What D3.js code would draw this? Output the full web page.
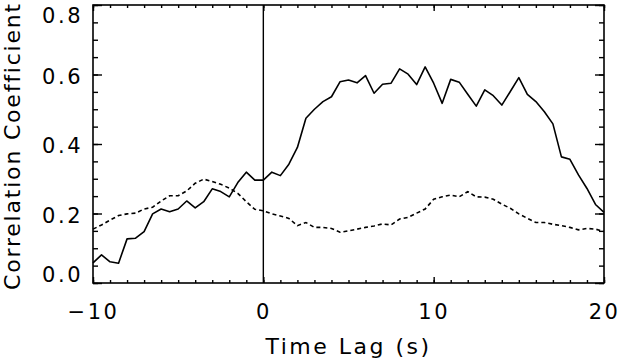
<!DOCTYPE html>
<html>
<head>
<meta charset="utf-8">
<script src="https://cdn.jsdelivr.net/npm/d3@7"></script>
<style>
  body { margin: 0; background: #fff; }
  text { font-family: 'DejaVu Sans', sans-serif; fill: #000; }
</style>
</head>
<body>
<script>
const width = 620, height = 363
const margin = {top: 5, right: 16, bottom: 80, left: 93}

// time lag in s, every 0.5 s from -10 to 20
const lags = d3.range(61).map(i => -10 + i * 0.5)

const solid = [
  0.058, 0.081, 0.061, 0.057, 0.127, 0.129, 0.148, 0.199, 0.213, 0.205,
  0.213, 0.236, 0.216, 0.234, 0.271, 0.263, 0.248, 0.289, 0.319, 0.296,
  0.296, 0.319, 0.309, 0.342, 0.390, 0.474, 0.500, 0.522, 0.536, 0.579,
  0.584, 0.576, 0.597, 0.546, 0.572, 0.575, 0.616, 0.601, 0.571, 0.622,
  0.575, 0.517, 0.586, 0.578, 0.543, 0.509, 0.556, 0.539, 0.512, 0.551,
  0.591, 0.543, 0.522, 0.493, 0.458, 0.363, 0.356, 0.311, 0.272, 0.226,
  0.203
]

const dashed = [
  0.155, 0.167, 0.181, 0.194, 0.199, 0.201, 0.213, 0.218, 0.236, 0.251,
  0.251, 0.265, 0.287, 0.299, 0.292, 0.284, 0.273, 0.258, 0.234, 0.212,
  0.208, 0.199, 0.193, 0.186, 0.165, 0.174, 0.160, 0.160, 0.157, 0.146,
  0.150, 0.155, 0.160, 0.164, 0.170, 0.167, 0.184, 0.189, 0.201, 0.213,
  0.241, 0.248, 0.253, 0.248, 0.263, 0.248, 0.247, 0.241, 0.227, 0.215,
  0.199, 0.186, 0.174, 0.174, 0.169, 0.165, 0.160, 0.153, 0.157, 0.155,
  0.148
]

const xMajor = [-10, 0, 10, 20]
const xMinor = d3.range(-10, 21, 1)
const yMajor = [0, 0.2, 0.4, 0.6, 0.8]
const yMinor = d3.range(0, 0.801, 0.05)

const x = d3.scaleLinear().domain([-10, 20]).range([margin.left, width - margin.right])
const y = d3.scaleLinear().domain([0, 0.8]).range([height - margin.bottom, margin.top])

const svg = d3.select('body').append('svg')
  .attr('width', width)
  .attr('height', height)

const fs = 21, ls = '2.5px'

let tick = (g, axis) => {
  g.call(axis)
  g.select('.domain').remove()
  g.selectAll('line').attr('stroke', '#000').attr('stroke-width', 1.4)
  g.selectAll('text')
    .style('font-size', fs + 'px')
    .style('letter-spacing', ls)
    .attr('fill', '#000')
}

const yBot = y(0), yTop = y(0.8), xLeft = x(-10), xRight = x(20)

// x minor and major ticks, bottom and top
svg.append('g').attr('transform', `translate(0,${yBot})`)
  .call(g => tick(g, d3.axisBottom(x).tickValues(xMinor).tickSize(-3).tickFormat('')))
svg.append('g').attr('transform', `translate(0,${yBot})`)
  .call(g => tick(g, d3.axisBottom(x).tickValues(xMajor).tickSize(-6).tickPadding(21).tickFormat(d3.format('d'))))
svg.append('g').attr('transform', `translate(0,${yTop})`)
  .call(g => tick(g, d3.axisTop(x).tickValues(xMinor).tickSize(-3).tickFormat('')))
svg.append('g').attr('transform', `translate(0,${yTop})`)
  .call(g => tick(g, d3.axisTop(x).tickValues(xMajor).tickSize(-6).tickFormat('')))

// y ticks, left and right
svg.append('g').attr('transform', `translate(${xLeft},0)`)
  .call(g => tick(g, d3.axisLeft(y).tickValues(yMinor).tickSize(-5).tickFormat('')))
const yl = svg.append('g').attr('transform', `translate(${xLeft},0)`)
  .call(g => tick(g, d3.axisLeft(y).tickValues(yMajor).tickSize(-9).tickPadding(10).tickFormat(d3.format('.1f'))))
svg.append('g').attr('transform', `translate(${xRight},0)`)
  .call(g => tick(g, d3.axisRight(y).tickValues(yMinor).tickSize(-5).tickFormat('')))
svg.append('g').attr('transform', `translate(${xRight},0)`)
  .call(g => tick(g, d3.axisRight(y).tickValues(yMajor).tickSize(-9).tickFormat('')))

// keep the end labels inside the frame
yl.selectAll('.tick text').attr('y', d => {
  let p = Math.min(Math.max(y(d) + 2, yTop + 11), yBot - 8)
  return p - y(d)
})

// frame
svg.append('rect')
  .attr('x', xLeft).attr('y', yTop)
  .attr('width', xRight - xLeft).attr('height', yBot - yTop)
  .attr('fill', 'none').attr('stroke', '#000').attr('stroke-width', 1.6)

// zero lag line
svg.append('line')
  .attr('x1', x(0)).attr('x2', x(0))
  .attr('y1', yBot).attr('y2', yTop)
  .attr('stroke', '#000').attr('stroke-width', 1.4)

const line = d3.line().x((d, i) => x(lags[i])).y(d => y(d))

svg.append('path').datum(solid)
  .attr('d', line)
  .attr('fill', 'none').attr('stroke', '#000').attr('stroke-width', 1.6)
  .attr('stroke-linejoin', 'round')

svg.append('path').datum(dashed)
  .attr('d', line)
  .attr('fill', 'none').attr('stroke', '#000').attr('stroke-width', 1.6)
  .attr('stroke-dasharray', '4,3')

// axis titles
svg.append('text')
  .attr('x', (xLeft + xRight) / 2)
  .attr('y', 354)
  .attr('text-anchor', 'middle')
  .style('font-size', '22px')
  .style('letter-spacing', ls)
  .text('Time Lag (s)')

svg.append('text')
  .attr('transform', `translate(20,${(yTop + yBot) / 2 + 2}) rotate(-90)`)
  .attr('text-anchor', 'middle')
  .style('font-size', '22px')
  .style('letter-spacing', '1.8px')
  .text('Correlation Coefficient')
</script>
</body>
</html>
